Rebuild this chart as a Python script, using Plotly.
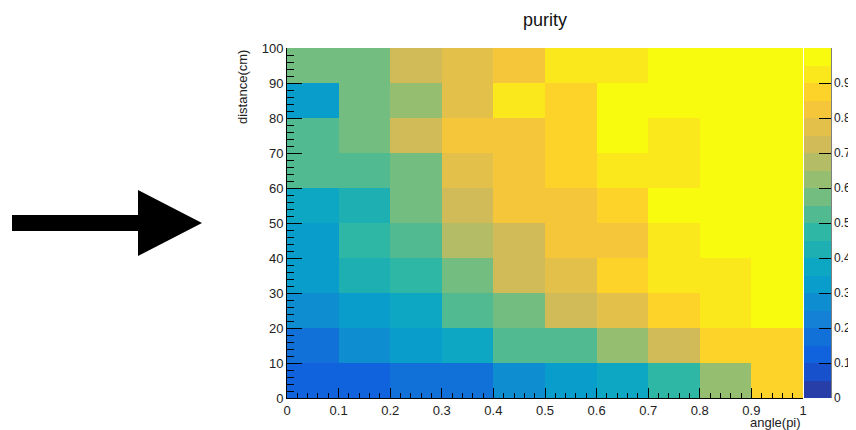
import numpy as np
import plotly.graph_objects as go

# ---------------- data ----------------
angle_centers = [0.05, 0.15, 0.25, 0.35, 0.45, 0.55, 0.65, 0.75, 0.85, 0.95]
distance_centers = [5, 15, 25, 35, 45, 55, 65, 75, 85, 95]
# purity per cell, rows from distance 0-10 (bottom) to 90-100 (top)
purity_d0 = [0.125, 0.125, 0.175, 0.175, 0.275, 0.325, 0.375, 0.475, 0.625, 0.875]
purity_d10 = [0.175, 0.275, 0.325, 0.375, 0.525, 0.525, 0.625, 0.725, 0.875, 0.875]
purity_d20 = [0.275, 0.325, 0.375, 0.525, 0.575, 0.725, 0.775, 0.875, 0.925, 0.975]
purity_d30 = [0.325, 0.425, 0.475, 0.575, 0.725, 0.775, 0.875, 0.925, 0.925, 0.975]
purity_d40 = [0.325, 0.475, 0.525, 0.675, 0.725, 0.825, 0.825, 0.925, 0.975, 0.975]
purity_d50 = [0.375, 0.425, 0.575, 0.725, 0.825, 0.825, 0.875, 0.975, 0.975, 0.975]
purity_d60 = [0.525, 0.525, 0.575, 0.775, 0.825, 0.875, 0.925, 0.925, 0.975, 0.975]
purity_d70 = [0.525, 0.575, 0.725, 0.825, 0.825, 0.875, 0.975, 0.925, 0.975, 0.975]
purity_d80 = [0.325, 0.575, 0.625, 0.775, 0.925, 0.875, 0.975, 0.975, 0.975, 0.975]
purity_d90 = [0.575, 0.575, 0.725, 0.775, 0.825, 0.925, 0.925, 0.975, 0.975, 0.975]
x_tick_vals = [0, 0.1, 0.2, 0.3, 0.4, 0.5, 0.6, 0.7, 0.8, 0.9, 1]
x_tick_text = ["0", "0.1", "0.2", "0.3", "0.4", "0.5", "0.6", "0.7", "0.8", "0.9", "1"]
y_tick_vals = [0, 10, 20, 30, 40, 50, 60, 70, 80, 90, 100]
cb_tick_vals = [0, 0.1, 0.2, 0.3, 0.4, 0.5, 0.6, 0.7, 0.8, 0.9]
cb_tick_text = ["0", "0.1", "0.2", "0.3", "0.4", "0.5", "0.6", "0.7", "0.8", "0.9"]

z = [purity_d0, purity_d10, purity_d20, purity_d30, purity_d40,
     purity_d50, purity_d60, purity_d70, purity_d80, purity_d90]

# ---------------- ROOT kBird palette, 20 contour levels ----------------
stops = [0.0, 0.125, 0.25, 0.375, 0.5, 0.625, 0.75, 0.875, 1.0]
red = [0.2082, 0.0592, 0.0780, 0.0232, 0.1802, 0.5301, 0.8186, 0.9956, 0.9764]
green = [0.1664, 0.3599, 0.5041, 0.6419, 0.7178, 0.7492, 0.7328, 0.7862, 0.9832]
blue = [0.5293, 0.8684, 0.8385, 0.7914, 0.6425, 0.4662, 0.3499, 0.1968, 0.0539]
ndiv = 20
colorscale = []
for k in range(ndiv):
    idx = int((k + 0.99) * 255 / ndiv)
    t = min(idx, 254) / 254
    r = int(round(np.interp(t, stops, red) * 255))
    g = int(round(np.interp(t, stops, green) * 255))
    b = int(round(np.interp(t, stops, blue) * 255))
    c = f"rgb({r},{g},{b})"
    colorscale.append([k / ndiv, c])
    colorscale.append([(k + 1) / ndiv, c])

# ---------------- layout geometry ----------------
# the page body has an 8px margin, so the figure is drawn at (8, 8)
OFF = 8
W, H = 856 - OFF, 430 - OFF
L, R, T, B = 287 - OFF, 53, 48 - OFF, 32
pw, ph = W - L - R, H - T - B


def px(xp):
    """window pixel x -> paper x"""
    return (xp - OFF - L) / pw


def py(yp):
    """window pixel y -> paper y"""
    return (H - B - (yp - OFF)) / ph


FONT = "Liberation Sans, Arial, Helvetica, sans-serif"

fig = go.Figure(go.Heatmap(
    x=angle_centers, y=distance_centers, z=z,
    zmin=0, zmax=1.0,
    colorscale=colorscale,
    xgap=0, ygap=0,
    colorbar=dict(
        x=px(804), xanchor="left", xpad=0,
        y=0.5, yanchor="middle", ypad=0,
        len=1, lenmode="fraction",
        thickness=27, thicknessmode="pixels",
        outlinewidth=0,
        tickmode="array", tickvals=cb_tick_vals, ticktext=cb_tick_text,
        ticks="inside", ticklen=12, tickwidth=1, tickcolor="black",
        tickfont=dict(family=FONT, size=12, color="#222"),
    ),
    hoverinfo="skip",
))

fig.update_layout(
    width=W, height=H,
    margin=dict(l=L, r=R, t=T, b=B, pad=0, autoexpand=False),
    paper_bgcolor="white", plot_bgcolor="white",
    showlegend=False,
    xaxis=dict(
        range=[0, 1], showgrid=False, zeroline=False,
        showline=True, linecolor="black", linewidth=1,
        tickmode="array", tickvals=x_tick_vals, ticktext=x_tick_text,
        ticks="inside", ticklen=10, tickwidth=1, tickcolor="black",
        minor=dict(dtick=0.02, ticks="inside", ticklen=5, tickwidth=1, tickcolor="black", showgrid=False),
        tickfont=dict(family=FONT, size=13, color="#222"),
        automargin=False,
    ),
    yaxis=dict(
        range=[0, 100], showgrid=False, zeroline=False,
        showline=True, linecolor="black", linewidth=1,
        tickmode="array", tickvals=y_tick_vals,
        ticks="inside", ticklen=15, tickwidth=1, tickcolor="black",
        minor=dict(dtick=2, ticks="inside", ticklen=7, tickwidth=1, tickcolor="black", showgrid=False),
        tickfont=dict(family=FONT, size=13, color="#222"),
        automargin=False,
    ),
)

# colour bar axis line (right side)
fig.add_shape(type="line", xref="paper", yref="paper",
              x0=px(831), x1=px(831), y0=py(398), y1=py(48),
              line=dict(color="black", width=1))

# big arrow on the left
arrow = [(12, 215), (138, 215), (138, 190), (202, 223), (138, 256), (138, 231), (12, 231)]
path = "M " + " L ".join(f"{px(a):.5f},{py(b):.5f}" for a, b in arrow) + " Z"
fig.add_shape(type="path", xref="paper", yref="paper", path=path,
              fillcolor="black", line=dict(color="black", width=0))

# title
fig.add_annotation(text="purity", xref="paper", yref="paper",
                   x=px(545), y=py(20), xanchor="center", yanchor="middle",
                   showarrow=False, font=dict(family=FONT, size=18, color="#111"))
# axis titles
fig.add_annotation(text="angle(pi)", xref="paper", yref="paper",
                   x=px(803), y=py(422), xanchor="right", yanchor="middle",
                   showarrow=False, font=dict(family=FONT, size=13, color="#222"))
fig.add_annotation(text="distance(cm)", xref="paper", yref="paper",
                   x=px(242), y=py(48), xanchor="center", yanchor="top",
                   textangle=-90, showarrow=False,
                   font=dict(family=FONT, size=13, color="#222"))

# clipped large heading at the top of the slide
fig.add_annotation(text="<b>Better efficiency, angle then gets bigger</b>",
                   xref="paper", yref="paper",
                   x=px(755), y=py(3), xanchor="right", yanchor="bottom",
                   showarrow=False, font=dict(family=FONT, size=38, color="black"))

fig.write_html("out.html")
